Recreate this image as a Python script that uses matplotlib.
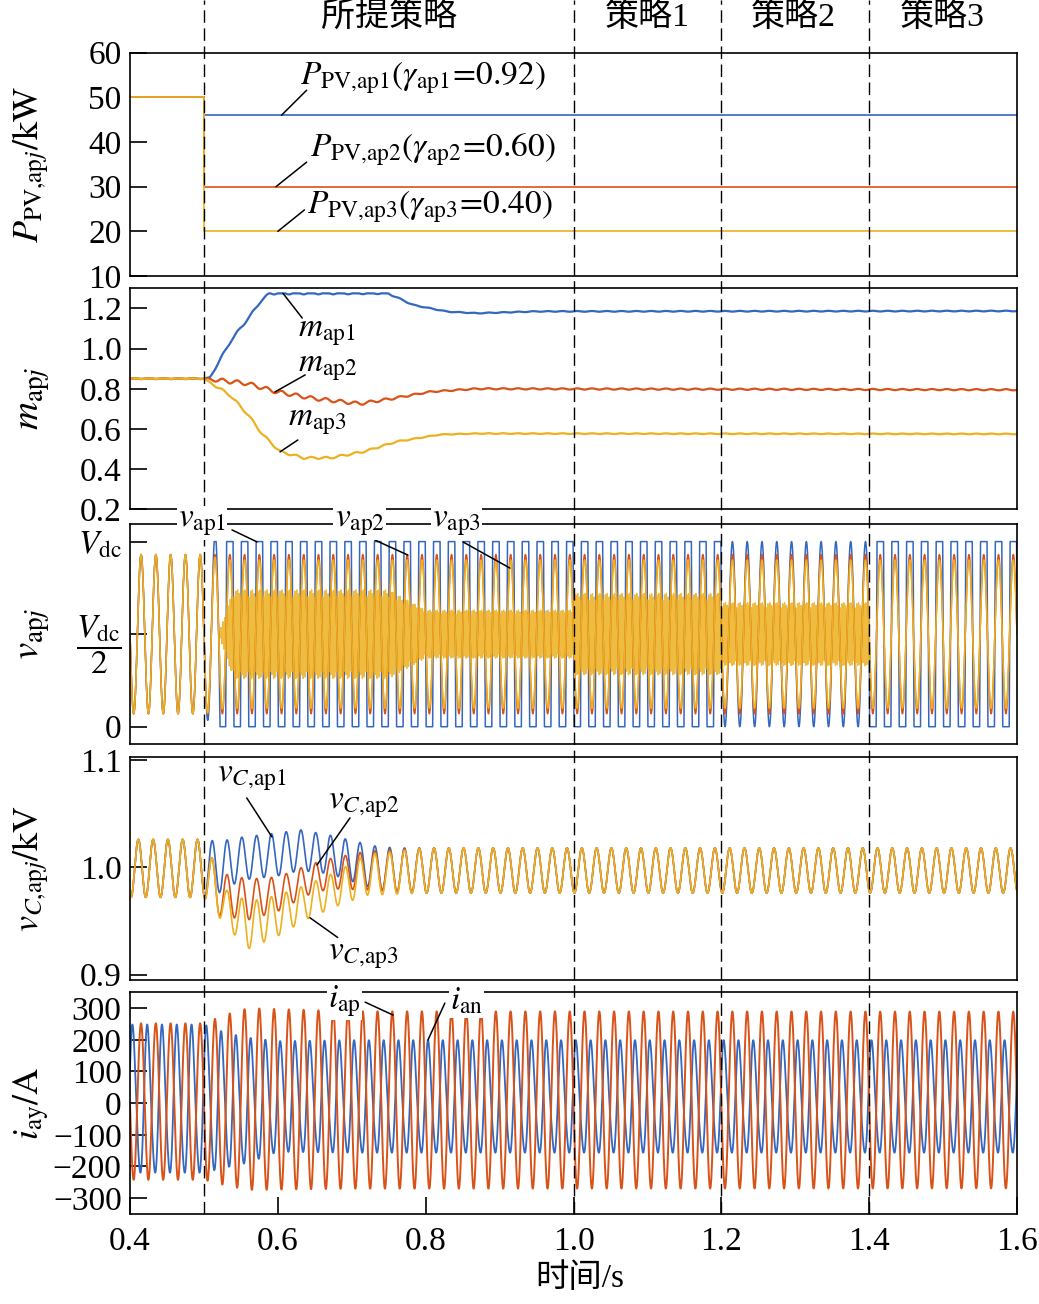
import numpy as np
import matplotlib
matplotlib.use("Agg")
import matplotlib.pyplot as plt
from matplotlib import transforms
from matplotlib.lines import Line2D

plt.rcParams["font.family"] = ["Liberation Serif", "Noto Sans CJK SC"]
plt.rcParams["mathtext.fontset"] = "stix"

BLUE = "#3467bf"
RED = "#d95319"
YELLOW = "#edb120"

# ---------------- data ----------------
f_grid = 50.0  # 5 cycles every 0.1 s

# PV power, kW
p_time = [0.4, 0.5, 0.5, 1.6]
p_ap1 = [50, 50, 46, 46]
p_ap2 = [50, 50, 30, 30]
p_ap3 = [50, 50, 20, 20]

# modulation index m_apj (slow trend)
m1_time = [0.4, 0.5, 0.508, 0.535, 0.549, 0.562, 0.576, 0.589, 0.749, 0.783, 0.829, 0.869, 0.95, 1.6]
m1_val = [0.85, 0.85, 0.855, 1.03, 1.10, 1.16, 1.233, 1.275, 1.275, 1.217, 1.184, 1.176, 1.185, 1.187]
m1_max = 1.275
m2_time = [0.4, 0.5, 0.558, 0.598, 0.648, 0.711, 0.756, 0.806, 0.869, 1.6]
m2_val = [0.85, 0.85, 0.827, 0.785, 0.752, 0.726, 0.752, 0.785, 0.80, 0.795]
m3_time = [0.4, 0.5, 0.535, 0.558, 0.58, 0.603, 0.635, 0.671, 0.716, 0.761, 0.819, 0.869, 1.6]
m3_val = [0.85, 0.85, 0.769, 0.678, 0.57, 0.487, 0.456, 0.456, 0.487, 0.537, 0.572, 0.577, 0.575]
m_rip_time = [0.4, 0.5, 0.52, 0.7, 0.8, 1.6]
m_rip_amp = [0.002, 0.002, 0.01, 0.008, 0.003, 0.003]

# arm voltages v_apj (per unit of Vdc)
va_peak = 0.415
va_time = [0.4, 0.5, 0.51, 0.52, 0.53, 1.2, 1.2001, 1.4, 1.4001, 1.6]
va1_gain = [0.43, 0.43, 0.5, 0.6, 3.0, 3.0, 0.5, 0.5, 3.0, 3.0]
va2_amp = [0.43, 0.43, 0.43, 0.43, 0.43, 0.43, 0.43, 0.43, 0.43, 0.43]
va3_amp = [0.43, 0.43, 0.42, 0.41, 0.40, 0.40, 0.40, 0.40, 0.40, 0.40]
band_time = [0.4, 0.52, 0.54, 0.75, 0.8, 1.0, 1.0001, 1.2, 1.2001, 1.4, 1.4001, 1.6]
band_half = [0.0, 0.0, 0.24, 0.24, 0.13, 0.13, 0.22, 0.22, 0.17, 0.17, 0.0, 0.0]
band_freq = 400.0

# capacitor voltages v_C,apj, kV
vc_peak = 0.4113
vc1_time = [0.4, 0.5, 0.52, 0.55, 0.6, 0.63, 0.67, 0.7, 0.73, 0.76, 0.85, 1.6]
vc1_mean = [0.999, 0.999, 1.0, 1.008, 1.012, 1.016, 1.012, 1.006, 1.0, 0.997, 0.997, 0.997]
vc1_amp = [0.027, 0.027, 0.024, 0.02, 0.02, 0.019, 0.018, 0.019, 0.02, 0.021, 0.021, 0.021]
vc2_time = [0.4, 0.5, 0.52, 0.56, 0.6, 0.64, 0.67, 0.72, 0.8, 1.6]
vc2_mean = [0.999, 0.999, 0.975, 0.97, 0.975, 0.988, 0.994, 0.997, 0.997, 0.997]
vc2_amp = [0.027, 0.027, 0.02, 0.019, 0.016, 0.014, 0.014, 0.018, 0.021, 0.021]
vc3_time = [0.4, 0.5, 0.53, 0.56, 0.6, 0.64, 0.68, 0.72, 0.8, 1.6]
vc3_mean = [0.999, 0.999, 0.962, 0.946, 0.955, 0.968, 0.98, 0.993, 0.997, 0.997]
vc3_amp = [0.027, 0.027, 0.017, 0.022, 0.019, 0.016, 0.016, 0.019, 0.021, 0.021]

# arm currents, A
iap_peak = 0.4149
ian_peak = 0.4036
i_time = [0.4, 0.5, 0.53, 0.56, 0.6, 0.7, 1.6]
iap_mean = [5, 5, 10, 13, 12, 10, 10]
iap_amp = [247, 247, 270, 287, 285, 280, 279]
ian_mean = [5, 5, 0, 0, 12, 12, 12]
ian_amp = [232, 232, 210, 195, 172, 175, 175]
ian_h2 = 18

x_ticks = [0.4, 0.6, 0.8, 1.0, 1.2, 1.4, 1.6]
x_ticklabels = ["0.4", "0.6", "0.8", "1.0", "1.2", "1.4", "1.6"]
strategy_times = [0.5, 1.0, 1.2, 1.4]

# ---------------- signals ----------------
t = np.linspace(0.4, 1.6, 48001)
w = 2 * np.pi * f_grid

rip = np.interp(t, m_rip_time, m_rip_amp) * np.sin(w * t)
m1 = np.minimum(np.interp(t, m1_time, m1_val) + 0.6 * rip, m1_max)
m2 = np.interp(t, m2_time, m2_val) + rip
m3 = np.interp(t, m3_time, m3_val) + 0.6 * rip

ph_v = np.cos(w * (t - va_peak))
v1 = np.clip(0.5 + np.interp(t, va_time, va1_gain) * ph_v, 0, 1)
v2 = 0.5 + np.interp(t, va_time, va2_amp) * ph_v
v3 = 0.5 + np.interp(t, va_time, va3_amp) * ph_v
bh = np.interp(t, band_time, band_half) * (0.8 + 0.2 * np.abs(ph_v))
vb = np.where(bh > 0, 0.5 + bh * np.sin(2 * np.pi * band_freq * t), np.nan)

ph_c = np.cos(w * (t - vc_peak))
c1 = np.interp(t, vc1_time, vc1_mean) + np.interp(t, vc1_time, vc1_amp) * ph_c
c2 = np.interp(t, vc2_time, vc2_mean) + np.interp(t, vc2_time, vc2_amp) * ph_c
c3 = np.interp(t, vc3_time, vc3_mean) + np.interp(t, vc3_time, vc3_amp) * ph_c

iap = np.interp(t, i_time, iap_mean) + np.interp(t, i_time, iap_amp) * np.cos(w * (t - iap_peak))
ian = (np.interp(t, i_time, ian_mean) + np.interp(t, i_time, ian_amp) * np.cos(w * (t - ian_peak))
       + ian_h2 * np.cos(2 * w * (t - ian_peak) + 1.0))

# ---------------- figure ----------------
W, H = 1039, 1304
fig = plt.figure(figsize=(W / 100, H / 100), dpi=100)


def axes_px(top, bottom):
    return fig.add_axes([130 / W, 1 - bottom / H, 887 / W, (bottom - top) / H])


ax1 = axes_px(52.7, 276)
ax2 = axes_px(288.3, 509.3)
ax3 = axes_px(524, 744.3)
ax4 = axes_px(757.3, 980)
ax5 = axes_px(992.3, 1214)
axes = [ax1, ax2, ax3, ax4, ax5]

for ax in axes:
    ax.set_xlim(0.4, 1.6)
    for s in ax.spines.values():
        s.set_linewidth(1.2)
    ax.tick_params(direction="in", length=12, width=1.2, labelsize=24, pad=6,
                   right=False, top=False)
    ax.set_xticks(x_ticks)
    ax.yaxis.set_label_coords(-0.088, 0.5)
for ax in axes[:-1]:
    ax.tick_params(axis="x", bottom=False, labelbottom=False)
ax5.set_xticklabels(x_ticklabels)
ax5.tick_params(axis="x", pad=9)

lw = 1.2

# panel 1
ax1.plot(p_time, p_ap1, color=BLUE, lw=1.2)
ax1.plot(p_time, p_ap2, color=RED, lw=1.2)
ax1.plot(p_time, p_ap3, color=YELLOW, lw=1.2)
ax1.set_ylim(10, 60)
ax1.set_yticks([10, 20, 30, 40, 50, 60])
ax1.set_ylabel(r"$P_{\mathrm{PV{,}ap}j}/\mathrm{kW}$", fontsize=26)

# panel 2
ax2.plot(t, m1, color=BLUE, lw=1.6)
ax2.plot(t, m2, color=RED, lw=1.6)
ax2.plot(t, m3, color=YELLOW, lw=1.6)
ax2.set_ylim(0.2, 1.3)
ax2.set_yticks([0.2, 0.4, 0.6, 0.8, 1.0, 1.2])
ax2.set_yticklabels(["0.2", "0.4", "0.6", "0.8", "1.0", "1.2"])
ax2.set_ylabel(r"$m_{\mathrm{ap}j}$", fontsize=28)

# panel 3
ax3.plot(t, v1, color=BLUE, lw=1.1)
ax3.plot(t, vb, color=YELLOW, lw=1.0, alpha=0.85)
ax3.plot(t, v2, color=RED, lw=1.1)
ax3.plot(t, v3, color=YELLOW, lw=1.1)
ax3.set_ylim(-0.095, 1.095)
ax3.set_yticks([0, 0.5, 1.0])
ax3.set_yticklabels(["0", r"$\dfrac{V_{\mathrm{dc}}}{2}$", r"$V_{\mathrm{dc}}$"])
ax3.set_ylabel(r"$v_{\mathrm{ap}j}$", fontsize=28)

# panel 4
ax4.plot(t, c1, color=BLUE, lw=lw)
ax4.plot(t, c2, color=RED, lw=lw)
ax4.plot(t, c3, color=YELLOW, lw=lw)
ax4.set_ylim(0.895, 1.1025)
ax4.set_yticks([0.9, 1.0, 1.1])
ax4.set_yticklabels(["0.9", "1.0", "1.1"])
ax4.set_ylabel(r"$v_{C{,}\mathrm{ap}j}/\mathrm{kV}$", fontsize=26)

# panel 5
ax5.plot(t, ian, color=BLUE, lw=1.3)
ax5.plot(t, iap, color=RED, lw=1.4)
ax5.set_ylim(-350, 350)
ax5.set_yticks([-300, -200, -100, 0, 100, 200, 300])
ax5.set_yticklabels(["\u2212300", "\u2212200", "\u2212100", "0", "100", "200", "300"])
ax5.set_ylabel(r"$i_{\mathrm{ay}}/\mathrm{A}$", fontsize=26)


def leader(ax, p0, p1):
    ax.annotate("", xy=p0, xytext=p1,
                arrowprops=dict(arrowstyle="-", lw=1.1, color="black",
                                shrinkA=0, shrinkB=0))


fs = 24
# panel 1 labels
ax1.text(0.630, 54.3, r"$P_{\mathrm{PV{,}ap1}}(\gamma_{\mathrm{ap1}}\!=\!0.92)$", fontsize=fs, va="center")
ax1.text(0.6435, 38.2, r"$P_{\mathrm{PV{,}ap2}}(\gamma_{\mathrm{ap2}}\!=\!0.60)$", fontsize=fs, va="center")
ax1.text(0.639, 25.6, r"$P_{\mathrm{PV{,}ap3}}(\gamma_{\mathrm{ap3}}\!=\!0.40)$", fontsize=fs, va="center")
leader(ax1, (0.605, 46), (0.639, 51.6))
leader(ax1, (0.5975, 30), (0.639, 35.5))
leader(ax1, (0.600, 20), (0.636, 24.8))

# panel 2 labels
ax2.text(0.627, 1.078, r"$m_{\mathrm{ap1}}$", fontsize=fs, va="center")
ax2.text(0.627, 0.903, r"$m_{\mathrm{ap2}}$", fontsize=fs, va="center")
ax2.text(0.614, 0.635, r"$m_{\mathrm{ap3}}$", fontsize=fs, va="center")
leader(ax2, (0.607, 1.275), (0.633, 1.152))
leader(ax2, (0.596, 0.784), (0.637, 0.869))
leader(ax2, (0.603, 0.486), (0.627, 0.545))

# panel 3 labels (sit on the top frame)
for x, s in [(0.465, r"$v_{\mathrm{ap1}}$"), (0.677, r"$v_{\mathrm{ap2}}$"), (0.8085, r"$v_{\mathrm{ap3}}$")]:
    fig.text(x, 1.10, s, fontsize=fs, va="center", transform=ax3.transData, zorder=6,
             bbox=dict(facecolor="white", edgecolor="none", pad=1))
leader(ax3, (0.572, 0.998), (0.538, 1.063))
leader(ax3, (0.776, 0.927), (0.731, 1.009))
leader(ax3, (0.914, 0.857), (0.8505, 0.998))

# panel 4 labels
ax4.text(0.5177, 1.0832, r"$v_{C{,}\mathrm{ap1}}$", fontsize=fs, va="center")
ax4.text(0.668, 1.058, r"$v_{C{,}\mathrm{ap2}}$", fontsize=fs, va="center")
ax4.text(0.668, 0.918, r"$v_{C{,}\mathrm{ap3}}$", fontsize=fs, va="center")
leader(ax4, (0.592, 1.0283), (0.558, 1.0646))
leader(ax4, (0.653, 1.0022), (0.6976, 1.046))
leader(ax4, (0.6435, 0.953), (0.681, 0.9346))

# panel 5 labels (on the top frame)
for x, s in [(0.668, r"$i_{\mathrm{ap}}$"), (0.833, r"$i_{\mathrm{an}}$")]:
    fig.text(x, 322, s, fontsize=fs, va="center", transform=ax5.transData, zorder=6,
             bbox=dict(facecolor="white", edgecolor="none", pad=1))
leader(ax5, (0.756, 278), (0.718, 319))
leader(ax5, (0.803, 199), (0.826, 316))

# strategy boundaries through the whole figure
blend = transforms.blended_transform_factory(ax5.transData, fig.transFigure)
for x in strategy_times:
    fig.add_artist(Line2D([x, x], [1 - 1214 / H, 1.0], transform=blend, color="black",
                          lw=1.0, dashes=(9, 4), zorder=4))

fs_top = 24.5
fig.text(389 / W, 1 - 17 / H, "所提策略", fontsize=fs_top, ha="center", va="center")
fig.text(647 / W, 1 - 17 / H, "策略1", fontsize=fs_top, ha="center", va="center")
fig.text(793 / W, 1 - 17 / H, "策略2", fontsize=fs_top, ha="center", va="center")
fig.text(942 / W, 1 - 17 / H, "策略3", fontsize=fs_top, ha="center", va="center")
fig.text(580 / W, 1 - 1279 / H, "时间/s", fontsize=24, ha="center", va="center")

fig.savefig("out.png", dpi=100)
